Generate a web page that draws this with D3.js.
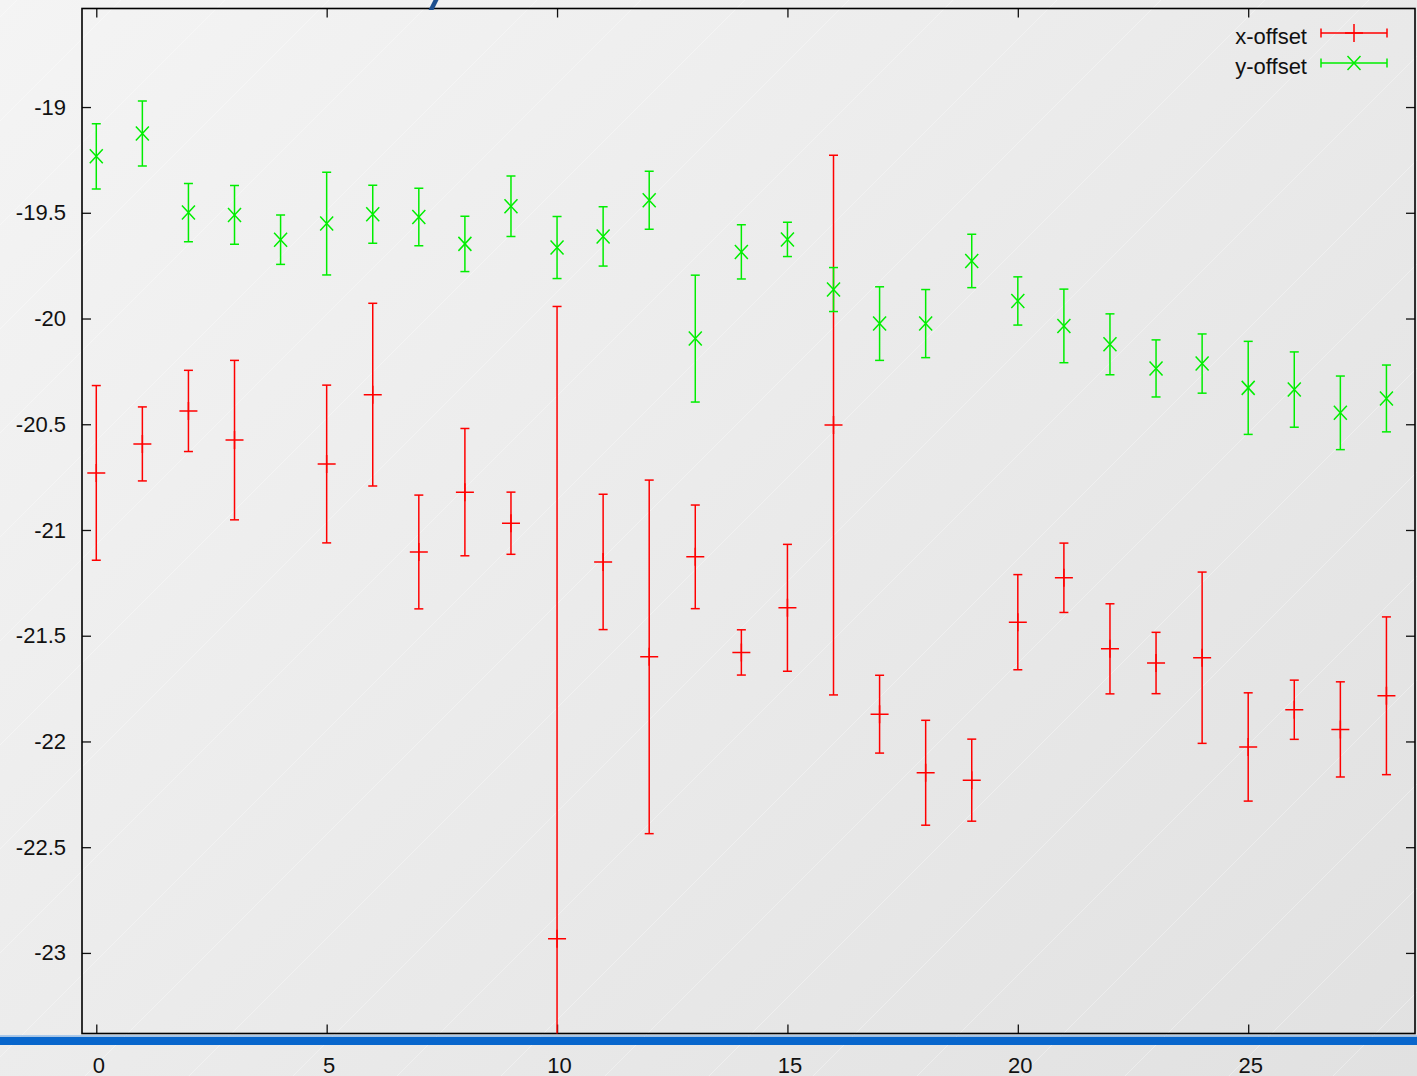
<!DOCTYPE html>
<html>
<head>
<meta charset="utf-8">
<script src="https://cdn.jsdelivr.net/npm/d3@7"></script>
<style>
  html, body { margin: 0; padding: 0; overflow: hidden; }
  svg { display: block; }
  text { font-family: "Liberation Sans", Arial, Helvetica, sans-serif; }
</style>
</head>
<body>
<svg id="chart" width="1417" height="1076"></svg>
<script>
// Frame index along the x axis
const frames = [0, 1, 2, 3, 4, 5, 6, 7, 8, 9, 10, 11, 12, 13, 14, 15, 16, 17, 18, 19, 20, 21, 22, 23, 24, 25, 26, 27, 28];

// x-offset series (frame 4 has no measurement)
const xOffset = [-20.730, -20.593, -20.437, -20.575, null, -20.688, -20.360, -21.104, -20.821, -20.968,
                 -22.933, -21.151, -21.600, -21.127, -21.579, -21.368, -20.504, -21.871, -22.148, -22.183,
                 -21.436, -21.226, -21.562, -21.629, -21.604, -22.026, -21.850, -21.943, -21.784];
const xOffsetErr = [0.413, 0.175, 0.192, 0.377, null, 0.373, 0.432, 0.269, 0.301, 0.147,
                    2.990, 0.320, 0.836, 0.245, 0.107, 0.300, 1.276, 0.184, 0.248, 0.194,
                    0.225, 0.164, 0.213, 0.145, 0.405, 0.256, 0.140, 0.225, 0.373];

// y-offset series
const yOffset = [-19.233, -19.125, -19.499, -19.510, -19.627, -19.551, -19.507, -19.520, -19.647, -19.469,
                 -19.664, -19.612, -19.441, -20.095, -19.685, -19.626, -19.863, -20.024, -20.024, -19.728,
                 -19.917, -20.035, -20.122, -20.236, -20.213, -20.328, -20.336, -20.446, -20.378];
const yOffsetErr = [0.154, 0.154, 0.138, 0.139, 0.117, 0.243, 0.137, 0.136, 0.131, 0.143,
                    0.147, 0.140, 0.137, 0.300, 0.128, 0.081, 0.104, 0.174, 0.161, 0.126,
                    0.114, 0.174, 0.144, 0.135, 0.140, 0.220, 0.178, 0.174, 0.158];

// Axis ticks
const xTicks = [0, 5, 10, 15, 20, 25];
const yTicks = [-19, -19.5, -20, -20.5, -21, -21.5, -22, -22.5, -23];
const yTickLabels = ["-19", "-19.5", "-20", "-20.5", "-21", "-21.5", "-22", "-22.5", "-23"];

const seriesNames = ["x-offset", "y-offset"];
const seriesColors = ["#ff0000", "#00ee00"];

const W = 1417, H = 1076;
const plot = { left: 82, right: 1415, top: 8.5, bottom: 1033.5 };

const svg = d3.select("#chart");
const defs = svg.append("defs");

// Page background: soft diagonal grey gradient
const grad = defs.append("linearGradient")
  .attr("id", "bg").attr("gradientUnits", "userSpaceOnUse")
  .attr("x1", 0).attr("y1", 0).attr("x2", 1246).attr("y2", 1246);
grad.append("stop").attr("offset", 0).attr("stop-color", "#f4f4f4");
grad.append("stop").attr("offset", 1).attr("stop-color", "#e1e1e1");
svg.append("rect").attr("width", W).attr("height", H).attr("fill", "url(#bg)");

// faint banding lines of the gradient
const bands = svg.append("g").attr("stroke", "#ffffff").attr("stroke-opacity", 0.35).attr("stroke-width", 1);
for (let s = 537 - 104 * 5; s < W + H; s += 104) {
  bands.append("line").attr("x1", 0).attr("y1", s).attr("x2", s).attr("y2", 0);
}

defs.append("clipPath").attr("id", "plotClip")
  .append("rect").attr("x", plot.left).attr("y", plot.top)
  .attr("width", plot.right - plot.left).attr("height", plot.bottom - plot.top);

const x = d3.scaleLinear().domain([-0.31, 28.62]).range([plot.left, plot.right]);
const y = d3.scaleLinear().domain([-23.381, -18.534]).range([plot.bottom, plot.top]);

// Axes: inward ticks on all four sides, labels on left and bottom
const tickLen = 9;
const axisFont = 22;

const gBottom = svg.append("g").attr("transform", `translate(0,${plot.bottom})`)
  .call(d3.axisBottom(x).tickValues(xTicks).tickFormat(d3.format("d"))
        .tickSizeInner(-tickLen).tickSizeOuter(0).tickPadding(24));
const gTop = svg.append("g").attr("transform", `translate(0,${plot.top})`)
  .call(d3.axisTop(x).tickValues(xTicks).tickFormat("").tickSizeInner(-tickLen).tickSizeOuter(0));
const gLeft = svg.append("g").attr("transform", `translate(${plot.left},0)`)
  .call(d3.axisLeft(y).tickValues(yTicks).tickFormat((d, i) => yTickLabels[i])
        .tickSizeInner(-tickLen).tickSizeOuter(0).tickPadding(16));
const gRight = svg.append("g").attr("transform", `translate(${plot.right},0)`)
  .call(d3.axisRight(y).tickValues(yTicks).tickFormat("").tickSizeInner(-tickLen).tickSizeOuter(0));

[gBottom, gTop, gLeft, gRight].forEach(g => {
  g.select(".domain").remove();
  g.selectAll(".tick line").attr("stroke", "#111").attr("stroke-width", 1.3);
  g.selectAll(".tick text").attr("fill", "#111").style("font-size", axisFont + "px")
    .style("font-family", '"Liberation Sans", Arial, sans-serif');
});
gBottom.selectAll(".tick text").attr("dx", 2);

// Plot frame
svg.append("rect")
  .attr("x", plot.left).attr("y", plot.top)
  .attr("width", plot.right - plot.left).attr("height", plot.bottom - plot.top)
  .attr("fill", "none").attr("stroke", "#000").attr("stroke-width", 1.6);

// Error bars with point markers
const capHalf = 4.5;
function drawSeries(values, errs, color, marker) {
  const pts = frames.map((f, i) => ({ f, v: values[i], e: errs[i] })).filter(d => d.v !== null);
  const g = svg.append("g").attr("clip-path", "url(#plotClip)")
    .attr("stroke", color).attr("stroke-width", 1.5).attr("fill", "none");
  const bar = g.selectAll("g.bar").data(pts).join("g").attr("class", "bar");
  bar.append("line")
    .attr("x1", d => x(d.f)).attr("x2", d => x(d.f))
    .attr("y1", d => y(d.v + d.e)).attr("y2", d => y(d.v - d.e));
  bar.append("line")
    .attr("x1", d => x(d.f) - capHalf).attr("x2", d => x(d.f) + capHalf)
    .attr("y1", d => y(d.v + d.e)).attr("y2", d => y(d.v + d.e));
  bar.append("line")
    .attr("x1", d => x(d.f) - capHalf).attr("x2", d => x(d.f) + capHalf)
    .attr("y1", d => y(d.v - d.e)).attr("y2", d => y(d.v - d.e));
  bar.append("path").attr("d", d => marker(x(d.f), y(d.v)));
}
const plusMarker = (cx, cy) => `M${cx - 9},${cy}H${cx + 9}M${cx},${cy - 9}V${cy + 9}`;
const crossMarker = (cx, cy) => `M${cx - 6.5},${cy - 7}L${cx + 6.5},${cy + 7}M${cx - 6.5},${cy + 7}L${cx + 6.5},${cy - 7}`;

drawSeries(xOffset, xOffsetErr, seriesColors[0], plusMarker);
drawSeries(yOffset, yOffsetErr, seriesColors[1], crossMarker);

// Legend (top right, inside the frame)
const legend = svg.append("g");
const legendRows = [
  { name: seriesNames[0], color: seriesColors[0], marker: plusMarker, ly: 33 },
  { name: seriesNames[1], color: seriesColors[1], marker: crossMarker, ly: 63 }
];
legendRows.forEach(r => {
  legend.append("text").attr("x", 1307).attr("y", r.ly + 11)
    .attr("text-anchor", "end").style("font-size", "22px").attr("fill", "#111").text(r.name);
  const g = legend.append("g").attr("stroke", r.color).attr("stroke-width", 1.5).attr("fill", "none");
  g.append("path").attr("d",
    `M1321,${r.ly}H1387M1321,${r.ly - 4.5}V${r.ly + 4.5}M1387,${r.ly - 4.5}V${r.ly + 4.5}`);
  g.append("path").attr("d", r.marker(1354, r.ly));
});

// Blue rule under the plot and the stroke at the top edge
svg.append("rect").attr("x", 0).attr("y", 1035).attr("width", W).attr("height", 1)
  .attr("fill", "#a9c9ec");
svg.append("rect").attr("x", 0).attr("y", 1036.7).attr("width", W).attr("height", 8.3)
  .attr("fill", "#0866cc");
svg.append("path").attr("d", "M428.5,10L433.5,10L438.5,0L433.5,0Z").attr("fill", "#1d4f8e");
</script>
</body>
</html>
